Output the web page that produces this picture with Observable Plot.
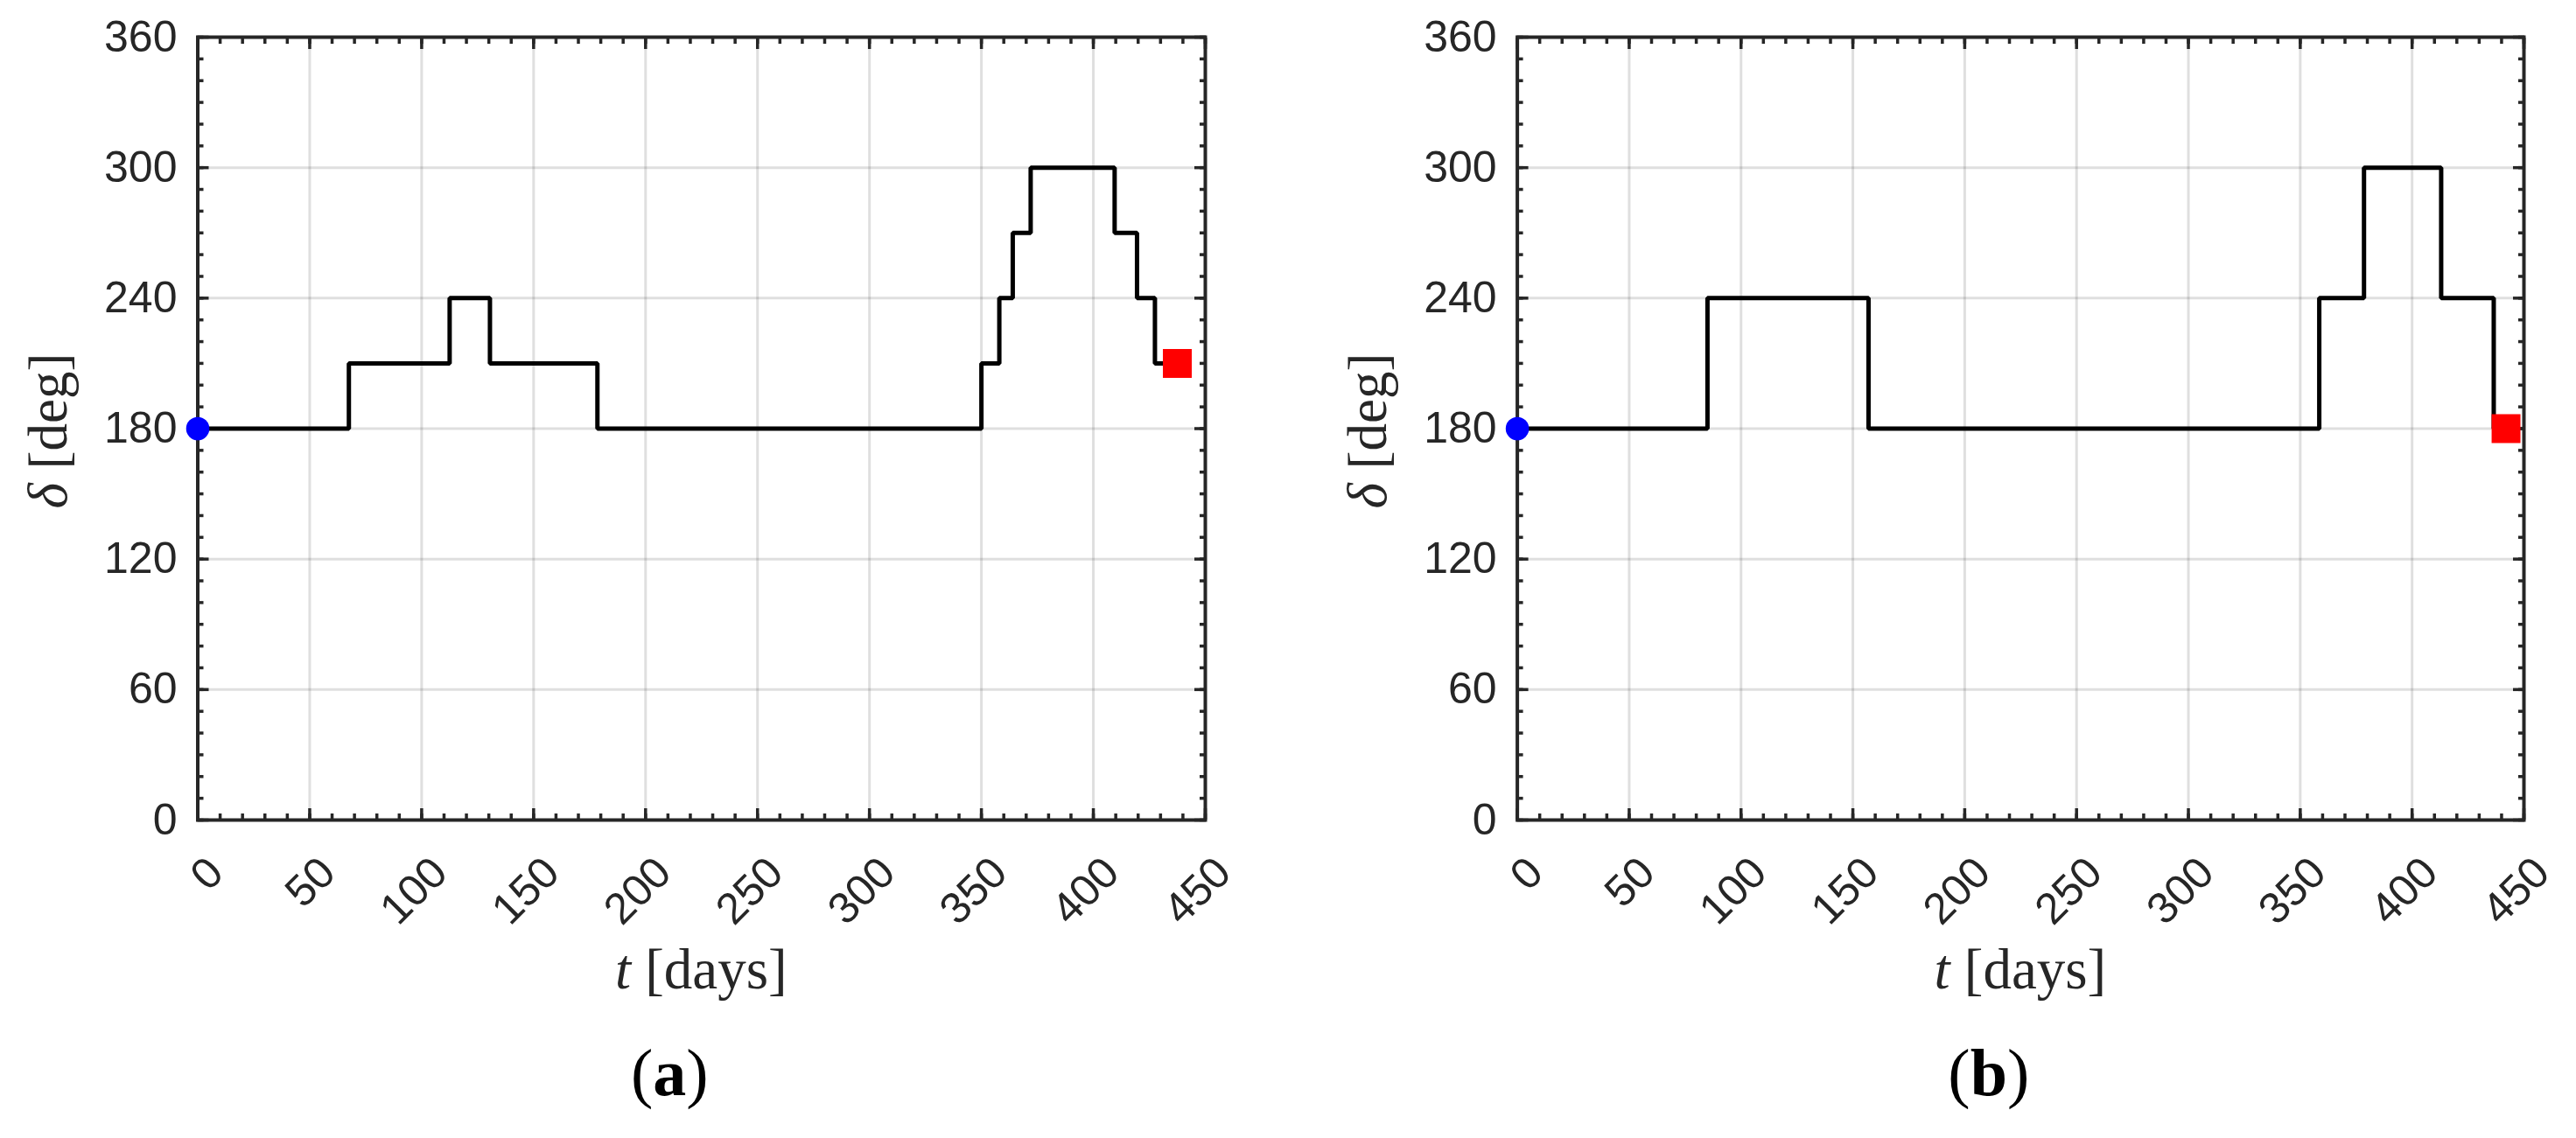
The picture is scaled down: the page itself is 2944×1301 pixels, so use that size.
<!DOCTYPE html>
<html>
<head>
<meta charset="utf-8">
<script src="https://cdn.jsdelivr.net/npm/d3@7"></script>
<script src="https://cdn.jsdelivr.net/npm/@observablehq/plot@0.6"></script>
<style>
  body { margin: 0; background: #fff; }
  #fig { display: flex; width: 2944px; height: 1301px; background: #fff; }
  #fig > div { width: 1472px; height: 1301px; }
</style>
</head>
<body>
<div id="fig"><div id="pa"></div><div id="pb"></div></div>
<script>
// ---- data ----
const xTicks = [0, 50, 100, 150, 200, 250, 300, 350, 400, 450];
const yTicks = [0, 60, 120, 180, 240, 300, 360];

// panel (a): step profile of delta [deg] vs t [days]
const tA = [0, 67.5, 112.5, 130.5, 178.5, 350, 358, 364, 372, 409.5, 419.5, 427.5, 437.5];
const dA = [180, 210, 240, 210, 180, 210, 240, 270, 300, 270, 240, 210, 210];

// panel (b)
const tB = [0, 85, 157, 358.5, 378.5, 413, 436.5, 442];
const dB = [180, 240, 180, 240, 300, 240, 180, 180];

const xLabel = ["t", " [days]"];
const yLabel = ["δ", " [deg]"];
const captions = ["a", "b"];

// ---- drawing ----
const ink = "#262626";
const sans = "'Liberation Sans', Arial, Helvetica, sans-serif";
const serif = "'Liberation Serif', 'Times New Roman', serif";

function panel(el, t, d, marginLeft, marginRight, cap) {
  const W = 1472, H = 1301, top = 42, bottom = 937;
  const data = t.map((ti, i) => ({t: ti, d: d[i]}));
  const tickCommon = {stroke: ink, strokeWidth: 3.5, fill: "none", label: null};
  const plot = Plot.plot({
    width: W, height: H,
    marginTop: top, marginBottom: H - bottom, marginLeft, marginRight,
    x: {domain: [0, 450]},
    y: {domain: [0, 360]},
    style: {fontFamily: sans, background: "white", color: ink, overflow: "visible"},
    marks: [
      Plot.gridX(xTicks, {stroke: ink, strokeOpacity: 0.15, strokeWidth: 3}),
      Plot.gridY(yTicks, {stroke: ink, strokeOpacity: 0.15, strokeWidth: 3}),
      Plot.line(data, {x: "t", y: "d", curve: "step-after", stroke: "black", strokeWidth: 5,
                       strokeLinejoin: "miter", strokeLinecap: "butt"}),
      // minor ticks (inward, all four sides)
      Plot.axisX({anchor: "bottom", interval: 10, tickSize: 7, dy: -7, ...tickCommon}),
      Plot.axisX({anchor: "top", interval: 10, tickSize: 7, dy: 7, ...tickCommon}),
      Plot.axisY({anchor: "left", interval: 10, tickSize: 7, dx: 7, ...tickCommon}),
      Plot.axisY({anchor: "right", interval: 10, tickSize: 7, dx: -7, ...tickCommon}),
      // major ticks
      Plot.axisX(xTicks, {anchor: "bottom", tickSize: 13, dy: -13, ...tickCommon}),
      Plot.axisX(xTicks, {anchor: "top", tickSize: 13, dy: 13, ...tickCommon}),
      Plot.axisY(yTicks, {anchor: "left", tickSize: 13, dx: 13, ...tickCommon}),
      Plot.axisY(yTicks, {anchor: "right", tickSize: 13, dx: -13, ...tickCommon}),
      // tick labels
      Plot.axisY(yTicks, {anchor: "left", tickSize: 0, tickPadding: 23.5, fontSize: 50, fill: ink, label: null}),
      Plot.text(xTicks, {x: (v) => v, text: (v) => String(v), frameAnchor: "bottom",
                         rotate: -45, textAnchor: "end", lineAnchor: "bottom",
                         dx: 32, dy: 63, fontSize: 50, fill: ink}),
      Plot.frame({stroke: ink, strokeWidth: 4}),
      Plot.dot([data[0]], {x: "t", y: "d", r: 13.3, fill: "#0000ff"}),
      Plot.dot([data[data.length - 1]], {x: "t", y: "d", r: 18.6, symbol: "square", fill: "#ff0000"})
    ]
  });

  const svg = d3.select(plot);
  const cx = marginLeft + (W - marginLeft - marginRight) / 2;
  // x label
  const xl = svg.append("text").attr("x", cx).attr("y", 1130).attr("text-anchor", "middle")
    .attr("font-family", serif).attr("font-size", 65).attr("fill", ink);
  xl.append("tspan").attr("font-style", "italic").text(xLabel[0]);
  xl.append("tspan").text(xLabel[1]);
  // y label
  const yl = svg.append("text")
    .attr("transform", `translate(${marginLeft - 149.5},${(top + bottom) / 2 + 3}) rotate(-90)`)
    .attr("text-anchor", "middle").attr("font-family", serif).attr("font-size", 63).attr("fill", ink);
  yl.append("tspan").attr("font-style", "italic").text(yLabel[0]);
  yl.append("tspan").text(yLabel[1]);
  // caption
  const cp = svg.append("text").attr("x", cx - 36).attr("y", 1252).attr("text-anchor", "middle")
    .attr("font-family", serif).attr("font-size", 76).attr("fill", "#000");
  cp.append("tspan").text("(");
  cp.append("tspan").attr("font-weight", "bold").text(cap);
  cp.append("tspan").text(")");

  el.appendChild(plot);
}

panel(document.getElementById("pa"), tA, dA, 225.5, 1472 - 1377, captions[0]);
panel(document.getElementById("pb"), tB, dB, 1733.6 - 1472, 2944 - 2884, captions[1]);
</script>
</body>
</html>
